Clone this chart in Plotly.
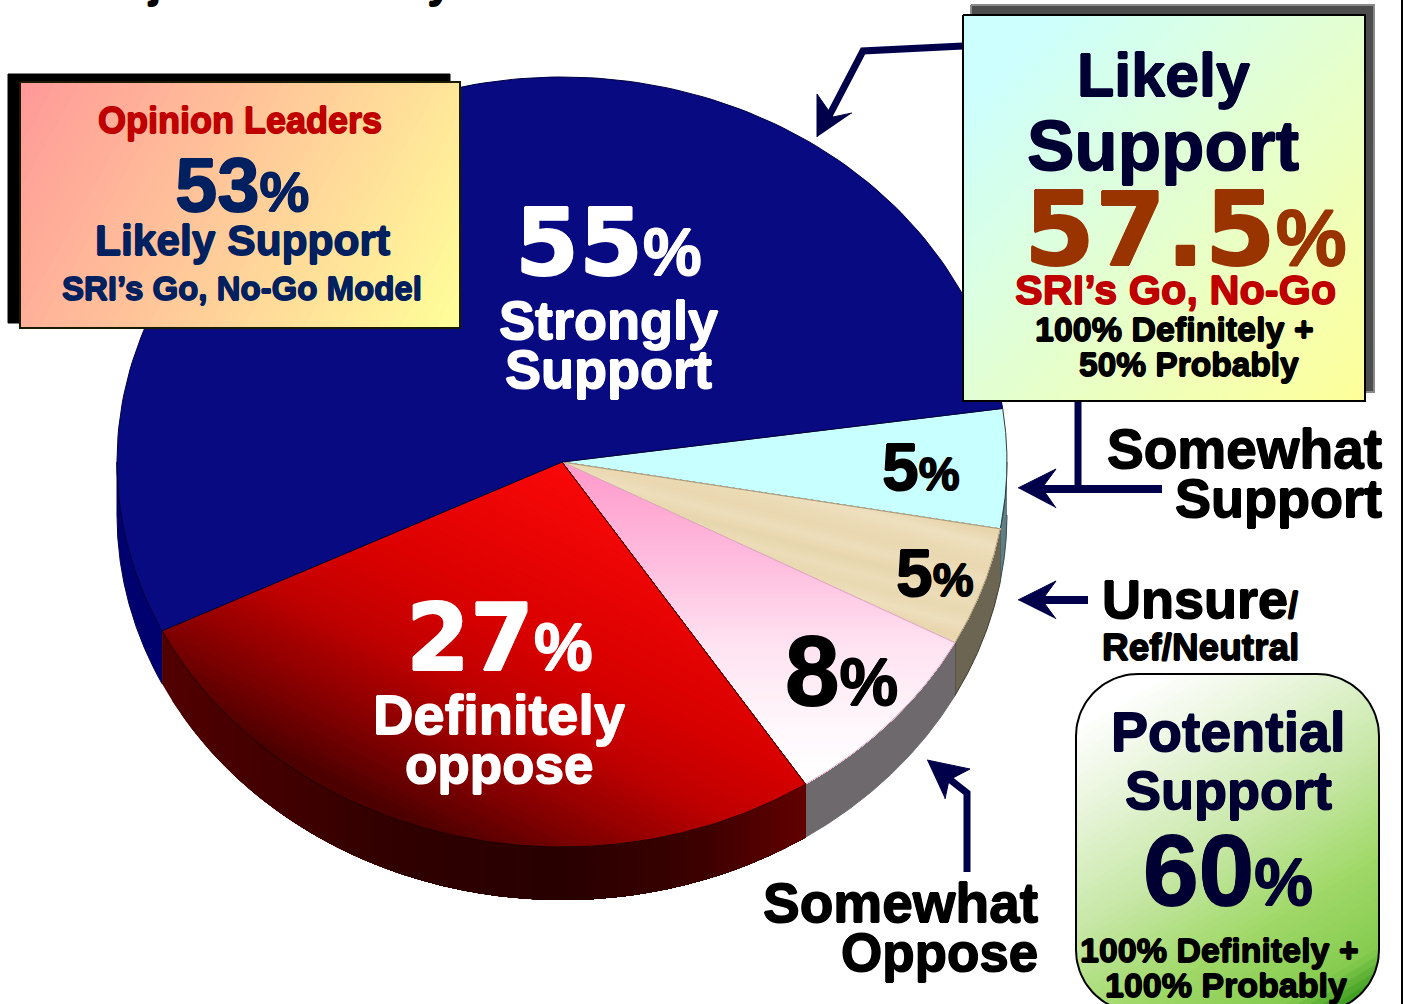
import numpy as np
import plotly.graph_objects as go

# ---- data ----
categories = ["Somewhat Support", "Unsure", "Somewhat Oppose", "Definitely oppose", "Strongly Support"]
values = [5, 5, 8, 27, 55]
opinion_leaders = 53
likely_support = 57.5
potential_support = 60

# ---- pie geometry (pixels, the axes span the page 1:1) ----
W, H = 1403, 1004
CX, CY, RX, RY, DEPTH = 562, 462, 445, 385, 53
START = 8.0

fig = go.Figure()


def add_poly(x, y, fill, line=None, width=1):
    fig.add_trace(go.Scatter(x=list(x), y=list(y), mode="lines", fill="toself", fillcolor=fill,
                             line=dict(color=line or fill, width=width),
                             hoverinfo="skip", showlegend=False))


def add_line(x, y, color, width):
    fig.add_trace(go.Scatter(x=list(x), y=list(y), mode="lines", line=dict(color=color, width=width),
                             hoverinfo="skip", showlegend=False))


def hex2rgb(c):
    c = c.lstrip("#")
    return np.array([int(c[i:i + 2], 16) for i in (0, 2, 4)], dtype=float)


def mix(stops, s):
    pos = [p for p, _ in stops]
    cols = np.array([hex2rgb(c) for _, c in stops])
    rgb = [np.interp(s, pos, cols[:, k]) for k in range(3)]
    return "rgb(%d,%d,%d)" % tuple(round(v) for v in rgb)


def clip(pts, d, limit):
    out = []
    n = len(pts)
    for i in range(n):
        p, q = pts[i], pts[(i + 1) % n]
        sp, sq = np.dot(p, d) - limit, np.dot(q, d) - limit
        if sp >= 0:
            out.append(p)
        if (sp >= 0) != (sq >= 0):
            out.append(p + (q - p) * sp / (sp - sq))
    return out


def gradient_poly(x, y, direction, stops, bands=48):
    """Paint the polygon, then repaint what lies further along the direction, band by band."""
    d = np.array(direction, dtype=float)
    d /= np.linalg.norm(d)
    pts = [np.array(p, dtype=float) for p in zip(x, y)]
    s0, s1 = stops[0][0], stops[-1][0]
    edges = np.linspace(s0, s1, bands + 1)
    for i in range(bands):
        piece = pts if i == 0 else clip(pts, d, edges[i])
        if len(piece) >= 3:
            arr = np.array(piece)
            fig.add_trace(go.Scatter(x=arr[:, 0].tolist() + [arr[0, 0]], y=arr[:, 1].tolist() + [arr[0, 1]],
                                     mode="lines", fill="toself",
                                     fillcolor=mix(stops, (edges[i] + edges[i + 1]) / 2),
                                     line=dict(width=0), hoverinfo="skip", showlegend=False))


def arc(a, b, n=160, dy=0.0):
    t = np.radians(np.linspace(a, b, n))
    return CX + RX * np.cos(t), CY - RY * np.sin(t) + dy


def frac_stops(x0, y0, x1, y1, stops):
    d = np.array([x1 - x0, y1 - y0], dtype=float)
    u = d / np.linalg.norm(d)
    a, b = np.dot([x0, y0], u), np.dot([x1, y1], u)
    return (x1 - x0, y1 - y0), [(a + (b - a) * f, c) for f, c in stops]


# ---- slice angles come from the values ----
angles = START - np.cumsum([0] + [v * 3.6 for v in values])
spans = list(zip(angles[:-1], angles[1:]))

# side walls
side_styles = [
    ("#5f7e86", "#3a4a4a"),
    ("#6b6552", "#3a3a30"),
    ("#6d696d", "#6d696d"),
    ([(163, "#520000"), (400, "#300000"), (560, "#280000"), (700, "#3c0000"), (806, "#620000")], None),
    ("#00006e", "#000050"),
]
for (a, b), (style, edge) in zip(spans, side_styles):
    hi, lo = min(a, 0), max(b, -180)
    if lo < hi:
        xs, ys = arc(hi, lo)
        xb, yb = arc(lo, hi, dy=DEPTH)
        px, py = np.r_[xs, xb], np.r_[ys, yb]
        if isinstance(style, str):
            add_poly(px, py, style, edge, 1)
        else:
            gradient_poly(px, py, (1, 0), style, bands=70)

# top faces
tan_cols = ["#e9d8b0", "#ecdcb8", "#e8d6ae", "#eedfbd", "#e9d9b2", "#ecdcb8", "#e7d6ad", "#eddebb",
            "#e9d8b0", "#ebdbb5", "#eee0bf", "#e7d5ac", "#ebdbb6"]
tan_stops = [(-400 + 12 * i, c) for i, c in enumerate(tan_cols)]
face_styles = [
    ("flat", "#c8ffff", "#303838"),
    ((0.25, -0.97), tan_stops, "#a89878"),
    ((0.0, 1.0), [(470, "#ff9ccc"), (560, "#ffbcde"), (650, "#ffe4f2"), (730, "#fff8fc"), (780, "#ffffff")], "#e0a8c4"),
    ((0.45, -0.89), [(-550, "#4a0000"), (-487, "#800000"), (-400, "#c00000"), (-330, "#d80000"), (-158, "#fa0808")], "#1c0000"),
    ("flat", "#070a80", "#000040"),
]
for (a, b), (style, stops, edge) in zip(spans, face_styles):
    xa, ya = arc(a, b)
    px, py = np.r_[CX, xa, CX], np.r_[CY, ya, CY]
    if style == "flat":
        add_poly(px, py, stops, edge, 1)
    else:
        gradient_poly(px[:-1], py[:-1], style, stops, bands=70)
        add_line(px, py, edge, 1)

NAVY = "#00004a"
# arrow shafts and heads
add_line([963, 863, 828], [46, 51, 118], NAVY, 7)
add_poly([817, 817, 833, 852], [137, 94, 117, 113], NAVY)
add_line([1078, 1078], [401, 489], NAVY, 7)
add_line([1162, 1042], [489, 489], NAVY, 8)
add_poly([1018, 1056, 1042, 1056], [488, 469, 488, 508], NAVY)
add_line([1088, 1042], [600, 600], NAVY, 8)
add_poly([1018, 1056, 1042, 1056], [600, 581, 600, 619], NAVY)
add_line([967, 967, 948], [872, 793, 778], NAVY, 7)
add_poly([927, 970, 949, 945], [760, 769, 780, 799], NAVY)

# boxes
add_poly([8, 450, 450, 8, 8], [74, 74, 323, 323, 74], "#000000")
bx, by = [20, 460, 460, 20, 20], [82, 82, 328, 328, 82]
direction, stops = frac_stops(20, 82, 460, 328, [(0, "#ff9999"), (1, "#ffff99")])
gradient_poly(bx[:-1], by[:-1], direction, stops)
add_line(bx, by, "#1a1a00", 2)

add_poly([971, 1374, 1374, 971, 971], [5, 5, 392, 392, 5], "#4d4d4d", "#8a8a8a", 2)
bx, by = [963, 1365, 1365, 963, 963], [15, 15, 401, 401, 15]
direction, stops = frac_stops(963, 15, 1365, 401, [(0.1, "#ccffff"), (1, "#ffff99")])
gradient_poly(bx[:-1], by[:-1], direction, stops)
add_line(bx, by, "#000000", 2)

# rounded box: runs just past the page bottom
L, R, T, B, RAD = 1076, 1379, 674, 1012, 62
th = np.radians(np.linspace(0, 90, 24))
rx = np.r_[R - RAD + RAD * np.sin(th), R - RAD + RAD * np.cos(th), L + RAD - RAD * np.sin(th), L + RAD - RAD * np.cos(th)]
ry = np.r_[T + RAD - RAD * np.cos(th), B - RAD + RAD * np.sin(th), B - RAD + RAD * np.cos(th), T + RAD - RAD * np.sin(th)]
direction, stops = frac_stops(1150, 680, 1350, 1010, [(0, "#ffffff"), (0.15, "#eef7e4"), (0.45, "#c8e8a8"), (0.7, "#a0d868"), (0.9, "#86cc50"), (1, "#2a9012")])
gradient_poly(rx, ry, direction, stops, bands=60)
add_line(np.r_[rx, rx[0]], np.r_[ry, ry[0]], "#000000", 2)

# hairline on the right page edge
add_line([1402, 1402], [0, H], "#000000", 2)

annotations = []
RING = [(0.7, 0), (-0.7, 0), (0, 0.7), (0, -0.7)]


def label(text, x, y, size, color, anchor="center", family="Liberation Sans", yshift=0):
    ring = ",".join(f"{a}px {b}px 0 {color}" for a, b in RING)
    annotations.append(dict(text=text, x=x, y=y, xref="x", yref="y", xanchor=anchor, yanchor="middle",
                            showarrow=False, yshift=yshift,
                            font=dict(family=family, size=size, color=color, weight=700, shadow=ring)))


def pct(number, size):
    return f"{number}<span style='font-family:Liberation Sans;font-size:{size}px'>%</span>"


WHITE, BLACK = "#ffffff", "#000000"
INK, SEA, RUST, RED = "#000033", "#002060", "#993300", "#c00000"
WIDE = "DejaVu Sans"

# clipped line at the very top of the page
label("Project", 150, 0, 42, BLACK, yshift=18)
label("Likely", 392, 0, 42, BLACK, yshift=18)

# slice labels
label(pct(values[4], 66), 608, 243, 92, WHITE, family=WIDE)
label("Strongly", 608, 320, 54, WHITE)
label("Support", 608, 369, 54, WHITE)
label(pct(values[3], 66), 499, 638, 92, WHITE, family=WIDE)
label("Definitely", 499, 714, 56, WHITE)
label("oppose", 499, 764, 53, WHITE)
label(pct(values[2], 66), 841, 671, 98, BLACK)
label(pct(values[0], 46), 921, 467, 66, BLACK)
label(pct(values[1], 46), 935, 573, 66, BLACK)

# callouts
label("Somewhat", 1384, 449, 55, BLACK, "right")
label("Support", 1384, 498, 54, BLACK, "right")
label("Unsure<span style='font-size:36px'>/</span>", 1100, 599, 54, BLACK, "left")
label("Ref/Neutral", 1100, 647, 37, BLACK, "left")
label("Somewhat", 1040, 903, 55, BLACK, "right")
label("Oppose", 1040, 952, 53, BLACK, "right")

# Opinion Leaders box
label("Opinion Leaders", 240, 120, 36, RED)
label(pct(opinion_leaders, 56), 242, 184, 76, SEA)
label("Likely Support", 242, 240, 42.5, SEA)
label("SRI’s Go, No-Go Model", 242, 288, 33, SEA)

# Likely Support box
label("Likely", 1163, 75, 61, INK)
label("Support", 1163, 145, 71, INK)
label(pct(likely_support, 80), 1185, 229, 102, RUST, family=WIDE)
label("SRI’s Go, No-Go", 1175, 289, 41.5, RED)
label("100% Definitely +", 1174, 329, 34, BLACK)
label("50% Probably", 1189, 364, 33.5, BLACK)

# Potential Support box
label("Potential", 1228, 732, 55.5, INK)
label("Support", 1228, 790, 54, INK)
label(pct(potential_support, 66), 1228, 870, 100, INK)
label("100% Definitely +", 1219, 950, 34, BLACK)
label("100% Probably", 1226, 985, 34, BLACK)

fig.update_layout(
    width=W, height=H, autosize=False,
    margin=dict(l=0, r=0, t=0, b=0),
    paper_bgcolor="#ffffff", plot_bgcolor="#ffffff",
    showlegend=False, annotations=annotations,
    xaxis=dict(range=[0, W], visible=False, fixedrange=True),
    yaxis=dict(range=[H, 0], visible=False, fixedrange=True),
)
fig.write_html("out.html", config={"displayModeBar": False},
               post_script="document.body.style.margin='0';document.body.style.overflow='hidden';")
